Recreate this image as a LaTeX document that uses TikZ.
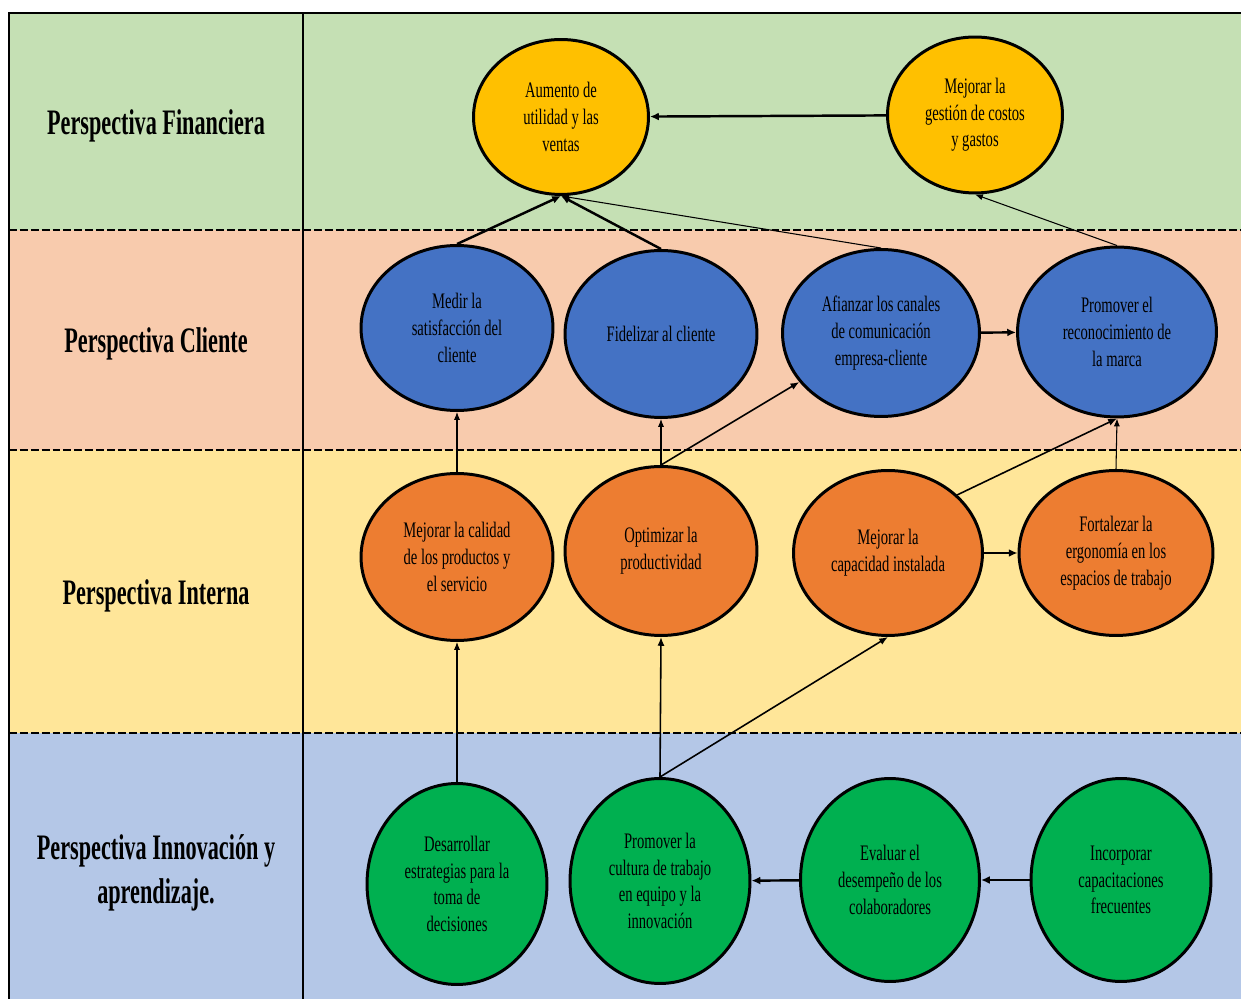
\documentclass[tikz,border=0pt]{standalone}
\usepackage{fontspec}
\setmainfont{Liberation Serif}
\newfontfamily\headfont[FakeStretch=0.62]{Liberation Serif}
\newfontfamily\boxfont[FakeStretch=0.66]{Liberation Serif}
\usetikzlibrary{shapes.geometric,arrows.meta}

\definecolor{bandfin}{HTML}{C5E0B4}
\definecolor{bandcli}{HTML}{F8CBAD}
\definecolor{bandint}{HTML}{FFE699}
\definecolor{bandinn}{HTML}{B4C7E7}
\definecolor{objgold}{HTML}{FFC000}
\definecolor{objblue}{HTML}{4472C4}
\definecolor{objorange}{HTML}{ED7D31}
\definecolor{objgreen}{HTML}{00B050}

\begin{document}
\begin{tikzpicture}[x=0.02cm,y=-0.02cm,
	obj/.style={ellipse,draw,line width=1.7pt,inner sep=0pt,align=center,
		font=\boxfont\fontsize{12.6}{15.2}\selectfont},
	head/.style={align=center,font=\headfont\bfseries\fontsize{20.4}{25}\selectfont},
	sep/.style={line width=1.2pt,dash pattern=on 4.5pt off 1.7pt},
	strong/.style={-{Latex[length=5pt,width=4.5pt]},line width=1.4pt},
	mid/.style={-{Latex[length=5pt,width=4pt]},line width=0.9pt},
	fine/.style={-{Latex[length=4.5pt,width=3.5pt]},line width=0.6pt}]
	\useasboundingbox (0,0) rectangle (1241,999);
	
	% bands
	\fill[bandfin] (9,13) rectangle (1241,230);
	\fill[bandcli] (9,230) rectangle (1241,450);
	\fill[bandint] (9,450) rectangle (1241,733);
	\fill[bandinn] (9,733) rectangle (1241,999);
	\draw[sep] (9,230) -- (1241,230);
	\draw[sep] (9,450) -- (1241,450);
	\draw[sep] (9,733) -- (1241,733);
	\draw[line width=1.4pt] (9,999) -- (9,13) -- (1241,13);
	\draw[line width=1.4pt] (303,13) -- (303,999);
	
	\node[head] (hfin) at (156,126) {Perspectiva Financiera};
	\node[head] (hcli) at (156,344) {Perspectiva Cliente};
	\node[head] (hint) at (156,596) {Perspectiva Interna};
	\node[head] (hinn) at (156,873) {Perspectiva Innovación y\\aprendizaje.};
	
	\node[obj,fill=objgold,minimum width=3.5cm,minimum height=3.1cm] (fin1) at (561,117) {Aumento de\\utilidad y las\\ventas};
	\node[obj,fill=objgold,minimum width=3.5cm,minimum height=3.12cm] (fin2) at (975,115) {Mejorar la\\gestión de costos\\y gastos};
	
	\node[obj,fill=objblue,minimum width=3.84cm,minimum height=3.3cm] (cli1) at (457,328) {Medir la\\satisfacción del\\cliente};
	\node[obj,fill=objblue,minimum width=3.84cm,minimum height=3.34cm] (cli2) at (661,334) {Fidelizar al cliente};
	\node[obj,fill=objblue,minimum width=3.94cm,minimum height=3.34cm] (cli3) at (881,333) {Afianzar los canales\\de comunicación\\empresa-cliente};
	\node[obj,fill=objblue,minimum width=3.98cm,minimum height=3.4cm] (cli4) at (1117,332) {Promover el\\reconocimiento de\\la marca};
	
	\node[obj,fill=objorange,minimum width=3.84cm,minimum height=3.34cm] (int1) at (457,557) {Mejorar la calidad\\de los productos y\\el servicio};
	\node[obj,fill=objorange,minimum width=3.84cm,minimum height=3.38cm] (int2) at (661,551) {Optimizar la\\productividad};
	\node[obj,fill=objorange,minimum width=3.78cm,minimum height=3.3cm] (int3) at (888,553) {Mejorar la\\capacidad instalada};
	\node[obj,fill=objorange,minimum width=3.88cm,minimum height=3.3cm] (int4) at (1116,553) {Fortalezar la\\ergonomía en los\\espacios de trabajo};
	
	\node[obj,fill=objgreen,minimum width=3.6cm,minimum height=4.02cm] (inn1) at (457,884) {Desarrollar\\estrategias para la\\toma de\\decisiones};
	\node[obj,fill=objgreen,minimum width=3.6cm,minimum height=4.1cm] (inn2) at (660,881) {Promover la\\cultura de trabajo\\en equipo y la\\innovación};
	\node[obj,fill=objgreen,minimum width=3.58cm,minimum height=4.06cm] (inn3) at (890,880) {Evaluar el\\desempeño de los\\colaboradores};
	\node[obj,fill=objgreen,minimum width=3.6cm,minimum height=4.06cm] (inn4) at (1121,880) {Incorporar\\capacitaciones\\frecuentes};
	
	\draw[strong] (fin2) -- (fin1);
	\draw[strong] (cli1.north) -- (fin1.south);
	\draw[strong] (cli2.north) -- (fin1.south);
	\draw[fine] (cli3.north) -- (fin1.south);
	\draw[fine] (cli4.north) -- (fin2.south);
	\draw[strong] (cli3) -- (cli4);
	
	\draw[fine] (int1.north) -- (cli1.south);
	\draw[fine] (int2.north) -- (cli2.south);
	\draw[mid] (int2.north) -- (cli3);
	\draw[mid] (int3.40) -- (cli4.south);
	\draw[fine] (int4.north) -- (cli4.south);
	\draw[strong] (int3) -- (int4);
	
	\draw[fine] (inn1.north) -- (int1.south);
	\draw[mid] (inn2.north) -- (int2.south);
	\draw[mid] (inn2.north) -- (int3.south);
	\draw[strong] (inn3) -- (inn2);
	\draw[strong] (inn4) -- (inn3);
\end{tikzpicture}
\end{document}
